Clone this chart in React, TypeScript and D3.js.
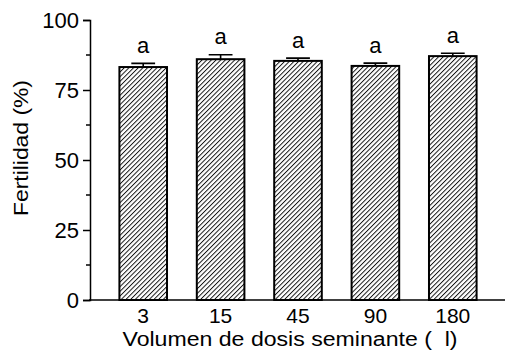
import React, { useEffect, useRef } from "react";
import * as d3 from "d3";

// datos
const categories = ["3", "15", "45", "90", "180"];
const fertility = [83.2, 86.0, 85.4, 83.6, 87.1];
const errors = [1.3, 1.6, 1.0, 1.0, 1.0];
const letters = ["a", "a", "a", "a", "a"];
const yTicks = [0, 25, 50, 75, 100];
const yMinorTicks = [12.5, 37.5, 62.5, 87.5];

const FONT = "'Liberation Sans', Arial, sans-serif";
const FS = 22;

const App = () => {
    const svgRef = useRef<SVGSVGElement>(null);

    useEffect(() => {
        const svg = d3.select(svgRef.current);
        svg.selectAll("*").remove();

        const width = 505;
        const left = 90;
        const right = 506;
        const top = 20;
        const bottom = 300;

        const x = d3
            .scaleBand()
            .domain(categories)
            .range([left, right])
            .paddingInner(0.385)
            .paddingOuter(0.38);
        const y = d3.scaleLinear().domain([0, 100]).range([bottom, top]);

        // patron de rayas
        const defs = svg.append("defs");
        const pat = defs
            .append("pattern")
            .attr("id", "hatch")
            .attr("patternUnits", "userSpaceOnUse")
            .attr("width", 3.3)
            .attr("height", 3.3)
            .attr("patternTransform", "rotate(45)");
        pat.append("rect").attr("width", 3.3).attr("height", 3.3).attr("fill", "white");
        pat.append("line")
            .attr("x1", 0.5)
            .attr("y1", 0)
            .attr("x2", 0.5)
            .attr("y2", 3.3)
            .attr("stroke", "black")
            .attr("stroke-width", 0.9);

        // barras
        svg.selectAll(".bar")
            .data(fertility)
            .enter()
            .append("rect")
            .attr("class", "bar")
            .attr("x", (d, i) => x(categories[i])!)
            .attr("y", (d) => y(d))
            .attr("width", x.bandwidth())
            .attr("height", (d) => bottom - y(d))
            .attr("fill", "url(#hatch)")
            .attr("stroke", "black")
            .attr("stroke-width", 2);

        // barras de error
        const cx = (i: number) => x(categories[i])! + x.bandwidth() / 2;
        const capW = x.bandwidth() / 4;
        svg.selectAll(".err")
            .data(fertility)
            .enter()
            .append("path")
            .attr("class", "err")
            .attr("fill", "none")
            .attr("stroke", "black")
            .attr("stroke-width", 1.6)
            .attr("d", (d, i) => {
                const yt = y(d + errors[i]);
                return `M${cx(i)},${y(d)}V${yt}M${cx(i) - capW},${yt}H${cx(i) + capW}`;
            });

        // letras
        svg.selectAll(".letter")
            .data(fertility)
            .enter()
            .append("text")
            .attr("class", "letter")
            .attr("x", (d, i) => cx(i))
            .attr("y", (d, i) => y(d + errors[i]) - 10.5)
            .attr("text-anchor", "middle")
            .attr("font-family", FONT)
            .attr("font-size", FS)
            .text((d, i) => letters[i]);

        // eje y
        const yAxis = d3.axisLeft(y).tickValues(yTicks).tickSize(7).tickPadding(4);
        const gy = svg.append("g").attr("transform", `translate(${left},0)`).call(yAxis);
        gy.select(".domain").attr("stroke-width", 1.5);
        gy.selectAll(".tick line").attr("stroke-width", 1.5);
        gy.selectAll("text").attr("font-family", FONT).attr("font-size", FS).attr("fill", "black");

        svg.append("g")
            .attr("transform", `translate(${left},0)`)
            .selectAll("line")
            .data(yMinorTicks)
            .enter()
            .append("line")
            .attr("x1", -4)
            .attr("x2", 0)
            .attr("y1", (d) => y(d))
            .attr("y2", (d) => y(d))
            .attr("stroke", "black")
            .attr("stroke-width", 1.5);

        // eje x
        svg.append("line")
            .attr("x1", left - 1)
            .attr("x2", width)
            .attr("y1", bottom)
            .attr("y2", bottom)
            .attr("stroke", "black")
            .attr("stroke-width", 1.5);

        svg.selectAll(".xlab")
            .data(categories)
            .enter()
            .append("text")
            .attr("class", "xlab")
            .attr("x", (d) => x(d)! + x.bandwidth() / 2)
            .attr("y", 323)
            .attr("text-anchor", "middle")
            .attr("font-family", FONT)
            .attr("font-size", 21)
            .text((d) => d);

        // titulos
        svg.append("text")
            .attr("x", 290)
            .attr("y", 345.5)
            .attr("text-anchor", "middle")
            .attr("font-family", FONT)
            .attr("font-size", 20)
            .attr("textLength", 335)
            .attr("lengthAdjust", "spacingAndGlyphs")
            .text("Volumen de dosis seminante (\u00a0\u00a0l)");

        svg.append("text")
            .attr("transform", `translate(28,148) rotate(-90)`)
            .attr("text-anchor", "middle")
            .attr("font-family", FONT)
            .attr("font-size", 21)
            .attr("textLength", 136)
            .attr("lengthAdjust", "spacingAndGlyphs")
            .text("Fertilidad (%)");
    }, []);

    return (
        <svg
            ref={svgRef}
            width={505}
            height={350}
            style={{ position: "absolute", left: 0, top: 0, background: "white" }}
        ></svg>
    );
};

export default App;
